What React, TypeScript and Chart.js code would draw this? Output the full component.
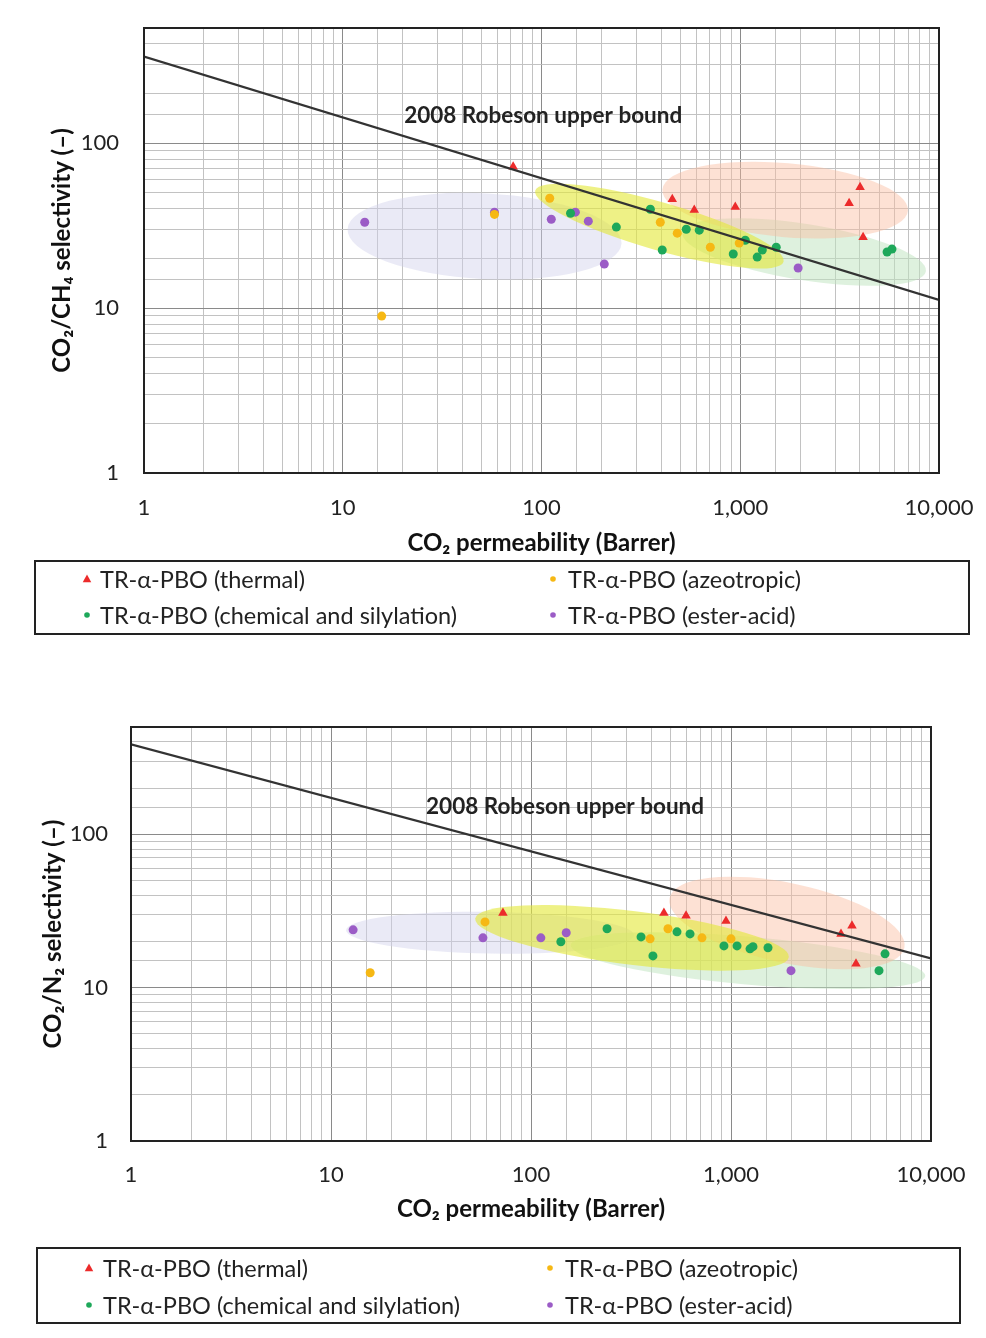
import React, { useEffect, useRef } from 'react';
import { Chart, registerables } from 'chart.js';

Chart.register(...registerables);

const FONT = 'Lato, "Open Sans", "DejaVu Sans", sans-serif';

// ---------- shared axis / legend text ----------
const xTickValues = [1, 10, 100, 1000, 10000];
const xTickLabels = ['1', '10', '100', '1,000', '10,000'];
const yTickValues = [1, 10, 100];
const yTickLabels = ['1', '10', '100'];
const xTitle = 'CO₂ permeability (Barrer)';
const robesonLabel = '2008 Robeson upper bound';

const seriesNames = [
  'TR-α-PBO (thermal)',
  'TR-α-PBO (azeotropic)',
  'TR-α-PBO (chemical and silylation)',
  'TR-α-PBO (ester-acid)',
];

// ---------- CO2/CH4 panel ----------
const ch4ThermalP = [72, 455, 587, 944, 3530, 4009, 4150];
const ch4ThermalS = [72, 45.8, 39.3, 41, 43.3, 54.1, 26.9];
const ch4AzeoP = [15.7, 58, 110, 396, 482, 707, 988];
const ch4AzeoS = [8.95, 37, 46.4, 33.2, 28.5, 23.4, 24.8];
const ch4ChemP = [140, 238, 353, 405, 535, 622, 922, 1060, 1217, 1291, 1517, 5480, 5800];
const ch4ChemS = [37.6, 31, 39.8, 22.5, 30.1, 29.7, 21.3, 25.8, 20.4, 22.5, 23.4, 21.9, 22.8];
const ch4EsterP = [12.9, 58, 112, 148, 172, 207, 1955];
const ch4EsterS = [33.2, 38.2, 34.6, 38.2, 33.7, 18.5, 17.5];
const ch4RobesonP = [1, 10000];
const ch4RobesonS = [335, 11.2];
const ch4LabelAt = [102, 146];
// shaded regions: lavender (ester-acid), green (chemical), salmon (thermal), yellow (azeotropic)
const ch4RegionP = [51.7, 2098, 1683, 392];
const ch4RegionS = [27.3, 21.9, 45.2, 31.4];
const ch4RegionHalfW = [0.69, 0.62, 0.62, 0.65]; // decades of permeability
const ch4RegionHalfH = [0.26, 0.17, 0.224, 0.145]; // decades of selectivity
const ch4RegionTilt = [3, 9, 5, 16];

// ---------- CO2/N2 panel ----------
const n2ThermalP = [72.4, 462, 596, 944, 3548, 4027, 4217];
const n2ThermalS = [30.7, 30.7, 29.4, 27.2, 22.4, 25.3, 14.3];
const n2AzeoP = [15.7, 58.9, 394, 484, 716, 1000];
const n2AzeoS = [12.5, 26.8, 20.8, 24.2, 21.1, 20.8];
const n2ChemP = [141, 240, 355, 407, 537, 624, 922, 1072, 1245, 1288, 1531, 5890, 5495];
const n2ChemS = [19.9, 24.2, 21.4, 16.1, 23.1, 22.4, 18.7, 18.7, 17.9, 18.5, 18.2, 16.6, 12.9];
const n2EsterP = [12.9, 57.5, 112, 150, 1995];
const n2EsterS = [23.8, 21.1, 21.1, 22.8, 12.9];
const n2RobesonP = [1, 10000];
const n2RobesonS = [385, 15.5];
const n2LabelAt = [148, 150];
const n2RegionP = [62.4, 1216, 1905, 320];
const n2RegionS = [22.8, 15, 26.4, 21.1];
const n2RegionHalfW = [0.72, 0.89, 0.6, 0.79];
const n2RegionHalfH = [0.136, 0.156, 0.26, 0.175];
const n2RegionTilt = [1, 5, 12, 7];

// ---------- styles ----------
const seriesColors = ['#ec2b2b', '#f6b814', '#1ea85a', '#9b5cc6'];
const seriesShapes = ['triangle', 'circle', 'circle', 'circle'];
const seriesRadius = [5.5, 4.5, 4.5, 4.5];
const regionColors = [
  'rgba(208, 208, 236, 0.45)',
  'rgba(190, 228, 190, 0.5)',
  'rgba(250, 188, 160, 0.45)',
  'rgba(228, 232, 60, 0.62)',
];

const pts = (xs: number[], ys: number[]) => xs.map((x, i) => ({ x, y: ys[i] }));

type Panel = {
  canvasTop: number;
  canvasHeight: number;
  area: { left: number; top: number; right: number; bottom: number };
  yTitle: string;
  yTitlePad: number;
  xTitlePad: number;
  xTickPad: number;
  yTickPad: number;
  series: { p: number[]; s: number[] }[];
  robeson: { p: number[]; s: number[] };
  labelAt: number[];
  regions: { p: number[]; s: number[]; hw: number[]; hh: number[]; tilt: number[] };
  legend: { x1: number; y1: number; x2: number; y2: number; rows: number[]; markX: number[]; textX: number[] };
};

const panels: Panel[] = [
  {
    canvasTop: 0,
    canvasHeight: 650,
    area: { left: 144, top: 28, right: 939, bottom: 473 },
    yTitle: 'CO₂/CH₄ selectivity (–)',
    yTitlePad: 48,
    xTitlePad: 5,
    xTickPad: 22,
    yTickPad: 25,
    series: [
      { p: ch4ThermalP, s: ch4ThermalS },
      { p: ch4AzeoP, s: ch4AzeoS },
      { p: ch4ChemP, s: ch4ChemS },
      { p: ch4EsterP, s: ch4EsterS },
    ],
    robeson: { p: ch4RobesonP, s: ch4RobesonS },
    labelAt: ch4LabelAt,
    regions: { p: ch4RegionP, s: ch4RegionS, hw: ch4RegionHalfW, hh: ch4RegionHalfH, tilt: ch4RegionTilt },
    legend: { x1: 35, y1: 561, x2: 969, y2: 634, rows: [579, 615], markX: [87, 553], textX: [100, 568] },
  },
  {
    canvasTop: 660,
    canvasHeight: 678,
    area: { left: 131, top: 67, right: 931, bottom: 481 },
    yTitle: 'CO₂/N₂ selectivity (–)',
    yTitlePad: 39,
    xTitlePad: 7,
    xTickPad: 21,
    yTickPad: 23,
    series: [
      { p: n2ThermalP, s: n2ThermalS },
      { p: n2AzeoP, s: n2AzeoS },
      { p: n2ChemP, s: n2ChemS },
      { p: n2EsterP, s: n2EsterS },
    ],
    robeson: { p: n2RobesonP, s: n2RobesonS },
    labelAt: n2LabelAt,
    regions: { p: n2RegionP, s: n2RegionS, hw: n2RegionHalfW, hh: n2RegionHalfH, tilt: n2RegionTilt },
    legend: { x1: 37, y1: 588, x2: 960, y2: 663, rows: [608, 645], markX: [89, 550], textX: [103, 565] },
  },
];

const isDecade = (v: number) => {
  const l = Math.log10(v);
  return Math.abs(l - Math.round(l)) < 1e-6;
};
const labelFor = (vals: number[], labels: string[]) => (value: any) => {
  const v = Number(value);
  const i = vals.findIndex((t) => Math.abs(t - v) < 1e-6 * Math.max(1, t));
  return i >= 0 ? labels[i] : '';
};
const gridColor = (ctx: any) => {
  const v = ctx.tick ? ctx.tick.value : 1;
  return isDecade(v) ? '#8a8a8a' : '#c2c2c2';
};
const noOverhang = (s: any) => {
  s.paddingTop = 0;
  s.paddingBottom = 0;
  s.paddingLeft = 0;
  s.paddingRight = 0;
};

function drawMarker(ctx: CanvasRenderingContext2D, shape: string, x: number, y: number, r: number, color: string) {
  ctx.fillStyle = color;
  ctx.beginPath();
  if (shape === 'triangle') {
    ctx.moveTo(x, y - r);
    ctx.lineTo(x + r * 0.95, y + r * 0.7);
    ctx.lineTo(x - r * 0.95, y + r * 0.7);
    ctx.closePath();
  } else {
    ctx.arc(x, y, r, 0, Math.PI * 2);
  }
  ctx.fill();
}

function makePlugin(panel: Panel) {
  return {
    id: 'panelDecor',
    beforeDatasetsDraw(chart: any) {
      const { ctx, chartArea: a, scales } = chart;
      const x = scales.x;
      const y = scales.y;
      const pxDecX = x.getPixelForValue(10) - x.getPixelForValue(1);
      const pxDecY = y.getPixelForValue(1) - y.getPixelForValue(10);
      ctx.save();
      ctx.beginPath();
      ctx.rect(a.left, a.top, a.right - a.left, a.bottom - a.top);
      ctx.clip();
      const r = panel.regions;
      r.p.forEach((p, i) => {
        const cx = x.getPixelForValue(p);
        const cy = y.getPixelForValue(r.s[i]);
        ctx.beginPath();
        ctx.ellipse(cx, cy, r.hw[i] * pxDecX, r.hh[i] * pxDecY, (r.tilt[i] * Math.PI) / 180, 0, Math.PI * 2);
        ctx.fillStyle = regionColors[i];
        ctx.fill();
      });
      ctx.restore();
    },
    afterDatasetsDraw(chart: any) {
      const { ctx, chartArea: a, scales } = chart;
      ctx.save();
      ctx.font = `bold 22.5px ${FONT}`;
      ctx.fillStyle = '#222';
      ctx.textAlign = 'center';
      ctx.textBaseline = 'middle';
      ctx.fillText(robesonLabel, scales.x.getPixelForValue(panel.labelAt[0]), scales.y.getPixelForValue(panel.labelAt[1]));
      ctx.strokeStyle = '#222';
      ctx.lineWidth = 2;
      ctx.strokeRect(a.left, a.top, a.right - a.left, a.bottom - a.top);
      ctx.restore();
    },
    afterDraw(chart: any) {
      const { ctx } = chart;
      const L = panel.legend;
      ctx.save();
      ctx.strokeStyle = '#222';
      ctx.lineWidth = 2;
      ctx.strokeRect(L.x1, L.y1, L.x2 - L.x1, L.y2 - L.y1);
      ctx.font = `23.5px ${FONT}`;
      ctx.textAlign = 'left';
      ctx.textBaseline = 'middle';
      seriesNames.forEach((name, i) => {
        const row = Math.floor(i / 2);
        const col = i % 2;
        const yy = L.rows[row];
        drawMarker(ctx, seriesShapes[i], L.markX[col], yy, seriesShapes[i] === 'triangle' ? 4.5 : 2.8, seriesColors[i]);
        ctx.fillStyle = '#222';
        ctx.fillText(name, L.textX[col], yy + 1);
      });
      ctx.restore();
    },
  };
}

function PanelChart({ panel }: { panel: Panel }) {
  const ref = useRef<HTMLCanvasElement>(null);
  useEffect(() => {
    if (!ref.current) return;
    const W = 986;
    const xAxisHeight = 90;
    const datasets: any[] = panel.series.map((s, i) => ({
      label: seriesNames[i],
      data: pts(s.p, s.s),
      pointStyle: seriesShapes[i],
      pointRadius: seriesRadius[i],
      pointBackgroundColor: seriesColors[i],
      pointBorderColor: seriesColors[i],
      pointBorderWidth: 0,
      showLine: false,
      order: 2,
    }));
    datasets.push({
      label: robesonLabel,
      data: pts(panel.robeson.p, panel.robeson.s),
      showLine: true,
      borderColor: '#333',
      borderWidth: 2.2,
      pointRadius: 0,
      order: 1,
    });
    const chart = new Chart(ref.current, {
      type: 'scatter',
      data: { datasets },
      options: {
        responsive: false,
        animation: false,
        devicePixelRatio: 1,
        layout: {
          padding: {
            left: 0,
            top: panel.area.top,
            right: W - panel.area.right,
            bottom: panel.canvasHeight - panel.area.bottom - xAxisHeight,
          },
        },
        plugins: { legend: { display: false }, tooltip: { enabled: false } },
        scales: {
          x: {
            type: 'logarithmic',
            min: 1,
            max: 10000,
            afterFit: (s: any) => {
              s.height = xAxisHeight;
              noOverhang(s);
            },
            border: { display: false },
            grid: { color: gridColor, lineWidth: 1, drawTicks: false },
            ticks: {
              autoSkip: false,
              maxRotation: 0,
              padding: panel.xTickPad,
              color: '#222',
              font: { family: FONT, size: 22 },
              callback: labelFor(xTickValues, xTickLabels),
            },
            title: {
              display: true,
              text: xTitle,
              color: '#111',
              font: { family: FONT, size: 24, weight: 'bold' },
              padding: { top: 0, bottom: panel.xTitlePad },
            },
          },
          y: {
            type: 'logarithmic',
            min: 1,
            max: 500,
            afterFit: (s: any) => {
              s.width = panel.area.left;
              noOverhang(s);
            },
            border: { display: false },
            grid: { color: gridColor, lineWidth: 1, drawTicks: false },
            ticks: {
              autoSkip: false,
              padding: panel.yTickPad,
              color: '#222',
              font: { family: FONT, size: 22 },
              callback: labelFor(yTickValues, yTickLabels),
            },
            title: {
              display: true,
              text: panel.yTitle,
              color: '#111',
              font: { family: FONT, size: 24, weight: 'bold' },
              padding: { top: panel.yTitlePad, bottom: 0 },
            },
          },
        },
      } as any,
      plugins: [makePlugin(panel) as any],
    });
    return () => chart.destroy();
  }, [panel]);
  return (
    <canvas
      ref={ref}
      width={986}
      height={panel.canvasHeight}
      style={{ position: 'absolute', left: 0, top: panel.canvasTop, width: 986, height: panel.canvasHeight }}
    />
  );
}

export default function App() {
  return (
    <div style={{ position: 'absolute', left: 0, top: 0, width: 986, height: 1338, background: '#fff', overflow: 'hidden' }}>
      {panels.map((p, i) => (
        <PanelChart key={i} panel={p} />
      ))}
    </div>
  );
}
